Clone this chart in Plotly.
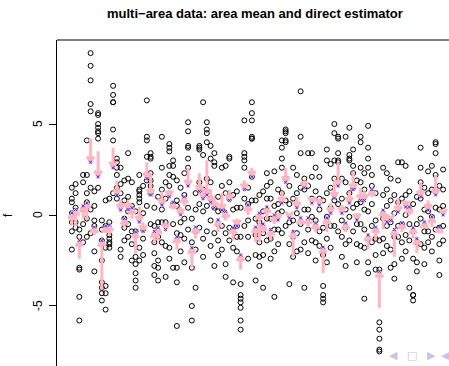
import plotly.graph_objects as go

# ---------------- data ----------------
areas = list(range(1, 101))

obs = [
    [1.5, 0.9, 0.7, 0.1, -0.4, -0.9, -1.9],          # 1
    [1.7, 1.2, 0.4, -0.4, -0.7],                      # 2
    [-0.8, -1.2, -2.9, -3.0, -4.5, -5.8],             # 3
    [2.2, 1.8, 0.3, -0.5, -1.5],                      # 4
    [4.1, 2.2, 1.2, 0.7, -0.2, -1.2],                 # 5
    [8.9, 8.2, 7.4, 6.1, 5.7, 1.5, 0.3, -1.0],        # 6
    [1.3, 0.5, -0.3, -0.6, -2.0, -3.1],               # 7
    [5.6, 5.5, 5.0, 4.8, 4.6, 4.5, 4.2, 1.5],         # 8
    [-0.3, -0.8, -1.4, -2.5, -3.7, -4.0, -4.3, -4.7], # 9
    [0.8, -0.6, -1.8, -3.9, -4.3, -5.2],              # 10
    [0.9, -0.4, -1.1, -1.3, -1.5, -1.6, -1.8],        # 11
    [7.1, 6.6, 6.2, 6.2, 4.7, 4.1, 1.2],              # 12
    [3.1, 2.9, 2.6, 2.2, 1.5, 0.9],                   # 13
    [2.6, 1.7, 1.2, 0.5, -1.9, -2.3],                 # 14
    [1.9, 0.8, -0.2, -0.7, -1.4],                     # 15
    [3.4, 2.0, 1.0, 0.2, -0.5, -1.2],                 # 16
    [1.8, 0.5, -0.9, -1.6, -2.5],                     # 17
    [0.2, -0.9, -2.3, -2.7, -3.2, -3.6, -4.0],        # 18
    [2.2, 1.4, 1.3, 1.1, 0.9, 0.7, -1.8, -2.5],       # 19
    [1.6, 0.1, -0.8, -1.3, -2.2],                     # 20
    [6.3, 4.3, 4.1, 3.2, 1.9, 0.5],                   # 21
    [3.4, 3.2, 3.1, 2.3, 1.9, 1.6, 1.2, -0.5],        # 22
    [0.4, -0.6, -1.5, -2.1, -2.8, -3.3],              # 23
    [1.0, -0.4, -1.2, -2.5, -2.9, -3.6],              # 24
    [4.3, 2.6, 1.4, 0.3, -0.4, -1.5],                 # 25
    [1.8, 0.9, -0.4, -1.7, -3.4],                     # 26
    [3.9, 3.7, 3.5, 2.7, 2.2, 1.6, -1.8, -2.4],       # 27
    [3.0, 2.7, 2.1, 0.6, -0.5, -2.9],                 # 28
    [1.9, 0.8, 0.5, -1.0, -2.9, -3.7, -6.1],          # 29
    [1.5, 0.2, -0.4, -1.1, -2.0],                     # 30
    [2.3, 1.1, -0.2, -1.3, -2.6],                     # 31
    [5.1, 4.6, 3.8, 3.7, 3.1, 2.6, 0.4, -0.8],        # 32
    [-0.2, -1.5, -2.9, -5.0, -5.8],                   # 33
    [1.2, 0.3, -0.9, -1.9, -4.0],                     # 34
    [3.8, 3.7, 3.6, 1.8, 0.6, -0.7],                  # 35
    [6.2, 3.3, 1.4, 0.2, -1.3, -2.3],                 # 36
    [5.1, 4.7, 4.5, 4.0, 2.0, 0.5, -0.9],             # 37
    [3.8, 3.1, 1.8, 0.9, -0.3, -1.7],                 # 38
    [3.4, 2.9, 2.7, 0.4, -1.0, -2.8],                 # 39
    [1.0, 0.2, -0.5, -1.4, -2.2],                     # 40
    [2.6, 1.6, 0.3, -0.6, -1.9],                      # 41
    [2.7, 1.2, 0.0, -1.0, -2.7, -3.4],                # 42
    [3.2, 3.1, 1.8, 0.9, -0.7, -1.4],                 # 43
    [1.1, 0.3, -0.8, -1.8, -3.7],                     # 44
    [1.3, 0.4, -0.6, -1.2, -2.0],                     # 45
    [0.4, -1.2, -3.8, -4.4, -4.6, -4.8, -5.1, -5.8, -6.3],  # 46
    [5.2, 3.4, 3.2, 3.0, 2.6, 0.9, -0.6],             # 47
    [1.5, 0.6, -0.3, -1.2, -2.4],                     # 48
    [6.2, 5.6, 5.2, 4.3, 4.2, 4.2, 2.1, 0.8],         # 49
    [0.8, -0.2, -1.1, -2.2, -3.6],                    # 50
    [1.1, -0.4, -1.5, -2.3, -2.8],                    # 51
    [1.3, 0.2, -1.0, -2.2, -4.0],                     # 52
    [2.3, 1.6, 0.9, -0.2, -1.4],                      # 53
    [1.8, 0.9, -0.2, -1.3, -2.4],                     # 54
    [2.4, 0.5, -0.8, -2.0, -4.5],                     # 55
    [1.4, 0.6, 0.1, -0.8, -1.6],                      # 56
    [4.1, 3.7, 3.1, 2.6, 1.2, 0.2, -1.0],             # 57
    [4.7, 4.6, 4.5, 4.1, 4.0, 2.0, 0.8, -0.6],        # 58
    [1.6, 0.6, -0.4, -1.6, -3.8],                     # 59
    [2.6, 0.9, -0.3, -1.2, -2.3],                     # 60
    [2.2, 1.2, 0.1, -1.0, -2.0],                      # 61
    [6.8, 4.3, 3.4, 1.5, -0.5, -1.9],                 # 62
    [2.0, 1.4, 0.3, -1.5, -4.0],                      # 63
    [3.4, 1.6, 0.3, -0.8, -2.1],                      # 64
    [3.4, 2.1, 0.9, -0.1, -1.4],                      # 65
    [2.6, 1.3, -0.3, -1.5, -2.5],                     # 66
    [2.1, 0.9, 0.3, -0.9, -1.7],                      # 67
    [0.8, -0.7, -2.2, -3.9, -4.4, -4.6, -4.8],        # 68
    [3.6, 3.0, 1.2, -0.1, -1.3, -2.6],                # 69
    [2.8, 1.5, 0.4, -0.6, -1.8],                      # 70
    [5.0, 4.5, 3.0, 2.0, 0.8, -0.6],                  # 71
    [4.3, 4.2, 3.4, 3.0, 2.9, 1.9, 0.6, -0.9],        # 72
    [2.0, 0.9, -0.3, -1.2, -2.3],                     # 73
    [4.3, 1.8, 0.3, -0.7, -1.6, -2.8],                # 74
    [4.8, 3.3, 3.1, 3.0, 1.2, -0.1, -1.4],            # 75
    [3.6, 2.7, 2.3, 1.5, 0.4, -0.9],                  # 76
    [1.9, 0.6, -0.5, -1.6, -2.6],                     # 77
    [4.3, 4.0, 2.6, 1.8, 0.7, -0.5, -1.7],            # 78
    [2.3, 1.4, 0.3, -0.8, -1.8, -4.6],                # 79
    [4.9, 3.7, 3.1, 2.6, 0.2, -1.3, -2.6, -3.2],      # 80
    [2.2, 1.6, 0.6, -0.6, -1.5],                      # 81
    [1.2, -0.3, -1.3, -2.2, -3.0],                    # 82
    [-1.4, -3.0, -5.9, -6.3, -6.8, -7.4, -7.5],       # 83
    [2.6, 1.1, -0.2, -1.3, -2.1],                     # 84
    [2.3, 1.4, 0.5, -0.6, -1.7],                      # 85
    [2.0, 0.8, -0.4, -1.9, -2.9],                     # 86
    [1.1, 0.1, -1.2, -2.7, -3.5],                     # 87
    [2.9, 1.9, 0.7, -0.6, -1.2],                      # 88
    [2.9, 0.9, -0.5, -1.5, -2.4],                     # 89
    [2.7, 1.1, 0.0, -1.1, -2.0],                      # 90
    [1.3, 0.3, -0.5, -1.4, -4.0],                     # 91
    [0.6, -0.9, -2.4, -4.4, -4.4, -4.7],              # 92
    [1.0, -0.5, -1.5, -2.6, -3.1],                    # 93
    [3.7, 2.6, 1.8, 0.9, -0.2, -1.6],                 # 94
    [1.5, 0.3, -0.9, -1.8, -2.7],                     # 95
    [2.4, 1.2, 0.2, -0.9, -1.5],                      # 96
    [2.7, 1.4, -0.1, -1.2, -2.0],                     # 97
    [4.0, 3.9, 3.4, 2.2, 1.3, 0.4, -0.8],             # 98
    [1.6, 0.3, -0.7, -1.6, -2.5, -3.3],               # 99
    [2.5, 1.4, 0.5, -0.6, -1.4],                      # 100
]

direct_est = [
    -0.55, -0.6, -2.4, -0.2, -0.27, 4.2, -1.1, 3.5, -4.1, -1.0,
    -1.1, 3.7, 1.9, 0.82, -0.7, 0.8, -0.2, -2.1, 0.44, -0.4,
    2.9, 2.3, -1.6, -1.4, 1.3, -0.4, 1.4, 0.3, -1.9, 0.44,
    0.5, 2.6, -2.9, -1.3, 2.3, 1.5, 3.0, 1.4, 0.9, -0.93,
    1.2, -0.3, 1.4, -1.4, -0.2, -3.0, 1.9, 0.0, 2.6, -1.5,
    -1.5, -1.0, -0.27, -1.4, -0.5, 0.1, 1.3, 2.6, 0.1, -2.3,
    1.0, -0.55, 1.9, -0.66, 0.93, -0.93, 0.9, -3.2, -0.93, 0.66,
    1.8, 2.9, 0.55, -0.93, 1.3, 2.4, 0.1, 1.5, 1.3, -1.9,
    1.0, -1.4, -5.1, -0.8, 0.0, -0.1, -2.3, 0.93, -0.93, 0.8,
    0.0, -1.3, -2.1, 1.8, -0.7, 0.8, -0.66, 2.2, -1.0, 0.27,
]

area_mean = [
    0.11, 0.3, -1.4, 0.5, 0.66, 2.9, -0.66, 2.1, -1.4, -0.6,
    -0.55, 2.6, 1.1, 0.27, -0.2, 0.3, 0.4, -0.93, -0.38, -0.9,
    2.0, 1.1, -0.9, -0.7, 0.55, -0.8, 1.0, 0.7, -1.2, 0.0,
    1.0, 1.6, -1.8, -0.66, 1.3, 0.9, 1.1, 0.7, 0.4, -0.27,
    0.27, 0.2, 0.8, -0.7, -0.6, -2.2, 1.4, 0.55, 2.1, -0.66,
    0.1, -0.5, 0.44, -0.8, 0.0, -0.27, 0.66, 1.8, -0.16, -0.9,
    0.4, -0.16, 1.5, -0.16, 0.66, -0.44, 0.55, -1.76, -0.16, 0.1,
    0.93, 1.6, 0.1, -0.44, 0.66, 1.4, -0.27, 0.8, 0.8, -1.1,
    1.4, -0.66, -3.1, 0.27, -0.38, -0.3, -0.8, 0.16, -0.44, 0.44,
    0.44, -0.7, -1.3, 1.0, -0.38, 0.27, -0.1, 1.1, -0.66, 0.0,
]

tick_vals = [-5, 0, 5]
tick_text = ["-5", "0", "5"]

# ---------------- geometry helpers (pixel scale of the axes) ----------------
W, H = 449, 366
ML, MR, MT, MB = 57, 0, 40, 0
x_range = [-2.96, 101.57]
y_range = [-8.30, 9.62]
px_per_x = (W - ML - MR) / (x_range[1] - x_range[0])
px_per_y = (H - MT - MB) / (y_range[1] - y_range[0])

# observations
ox, oy = [], []
for a, vals in zip(areas, obs):
    ox += [a] * len(vals)
    oy += vals

# arrows: shaft + two head strokes, head at area mean
head_len = 7.0
ax_, ay_ = [], []
for a, d, m in zip(areas, direct_est, area_mean):
    ax_ += [a, a, None]
    ay_ += [d, m, None]
    sgn = 1 if m > d else -1
    dx = head_len * 0.5 / px_per_x
    dy = head_len * 0.866 / px_per_y
    ax_ += [a - dx, a, a + dx, None]
    ay_ += [m - sgn * dy, m, m - sgn * dy, None]

fig = go.Figure()
fig.add_trace(go.Scatter(
    x=ox, y=oy, mode="markers",
    marker=dict(symbol="circle-open", size=5, color="black", line=dict(width=1)),
    hoverinfo="skip", showlegend=False))
fig.add_trace(go.Scatter(
    x=ax_, y=ay_, mode="lines",
    line=dict(color="#ffb6c1", width=3),
    hoverinfo="skip", showlegend=False))
fig.add_trace(go.Scatter(
    x=areas, y=area_mean, mode="markers",
    marker=dict(symbol="x-thin", size=3, color="#3030ff", line=dict(width=1, color="#3030ff")),
    hoverinfo="skip", showlegend=False))

font = "Liberation Sans, Arial, sans-serif"
annotations = [
    dict(text="<b>multi\u2212area data: area mean and direct estimator</b>",
         xref="paper", yref="paper", x=(255 - ML) / (W - ML - MR), y=(H - 13) / (H - MT - MB),
         xanchor="center", yanchor="middle", showarrow=False,
         font=dict(family=font, size=13, color="black")),
    dict(text="f", xref="paper", yref="y", x=(8 - ML) / (W - ML - MR), y=0,
         textangle=-90, xanchor="center", yanchor="middle", showarrow=False,
         font=dict(family=font, size=12, color="black")),
]
for v, t in zip(tick_vals, tick_text):
    annotations.append(dict(text=t, xref="paper", yref="y", x=(38 - ML) / (W - ML - MR), y=v,
                            textangle=-90, xanchor="center", yanchor="middle", showarrow=False,
                            font=dict(family=font, size=12, color="black")))

nav_syms = ["\u25c0", "\u25a1", "\u25b6", "\u25c0"]
nav_x = [393, 412, 431, 445]
for s, xp in zip(nav_syms, nav_x):
    annotations.append(dict(text=s, xref="paper", yref="paper", x=(xp - ML) / (W - ML - MR),
                            y=(H - 355) / (H - MT - MB), xanchor="center", yanchor="middle",
                            showarrow=False,
                            font=dict(family="DejaVu Sans", size=11, color="#c4c4ea")))

fig.update_layout(
    width=W, height=H,
    margin=dict(l=ML, r=MR, t=MT, b=MB, pad=0),
    paper_bgcolor="white", plot_bgcolor="white",
    xaxis=dict(range=x_range, visible=False, showgrid=False, zeroline=False),
    yaxis=dict(range=y_range, tickvals=tick_vals, ticks="outside", ticklen=7, tickwidth=1,
               tickcolor="black", showticklabels=False, showline=True, linecolor="black",
               linewidth=1, showgrid=False, zeroline=False),
    shapes=[dict(type="line", xref="paper", yref="paper", x0=0, x1=1, y0=1, y1=1,
                 line=dict(color="black", width=1))],
    annotations=annotations,
)

fig.write_html("out.html",
               config={"displayModeBar": False},
               post_script="document.body.style.margin='0px';document.body.style.overflow='hidden';")
